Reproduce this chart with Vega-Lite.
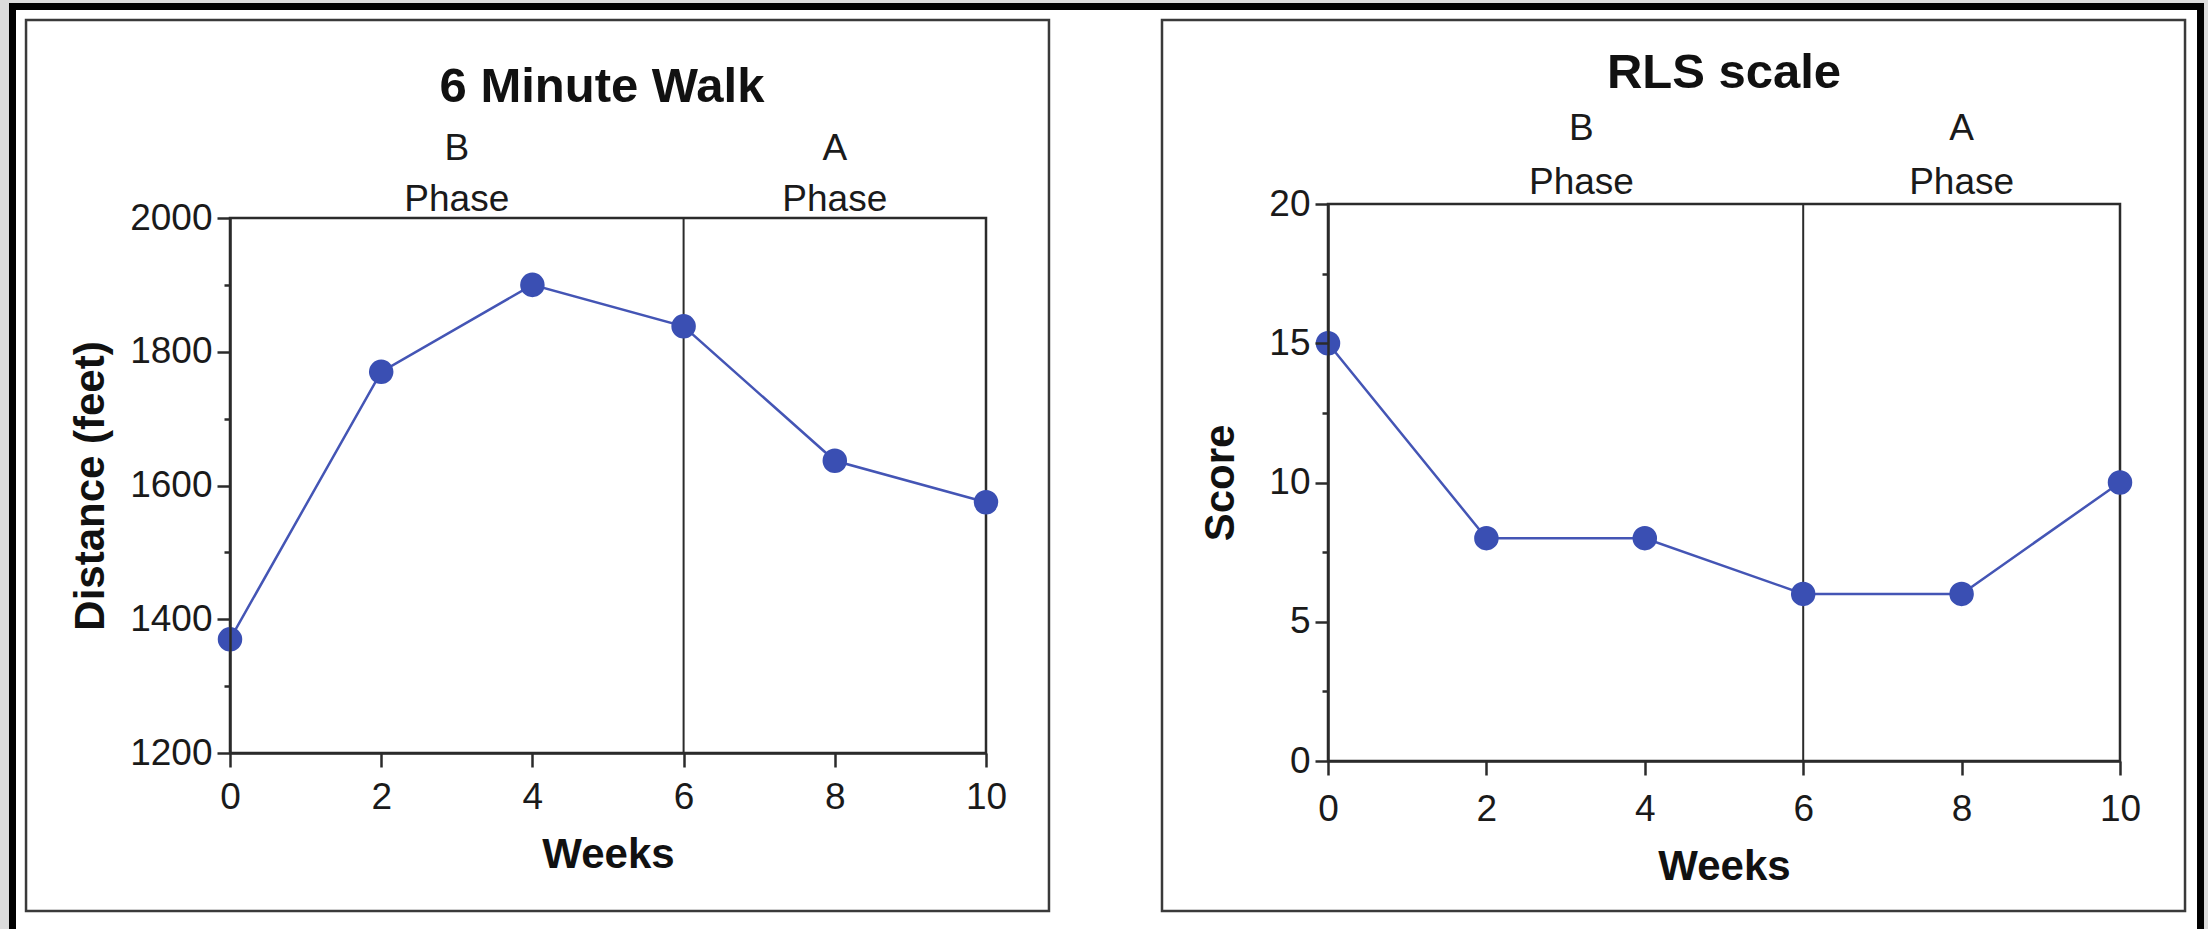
{
  "$schema": "https://vega.github.io/schema/vega-lite/v6.json",
  "width": 2208,
  "height": 929,
  "autosize": "none",
  "padding": 0,
  "background": "#dcdcdc",
  "config": {
    "font": "Liberation Sans",
    "view": {"stroke": null},
    "axis": {
      "grid": false,
      "labelFlush": false,
      "labelOverlap": false,
      "domainColor": "#2b2b2b",
      "domainWidth": 2.5,
      "tickColor": "#2b2b2b",
      "tickWidth": 2.5,
      "labelColor": "#1a1a1a",
      "labelFont": "Liberation Sans",
      "labelFontSize": 37,
      "titleFont": "Liberation Sans",
      "titleFontSize": 42,
      "titleFontWeight": "bold",
      "titleColor": "#111111"
    },
    "text": {"font": "Liberation Sans", "color": "#111111"}
  },
  "datasets": {
    "walk": [
      {"week": 0, "distance": 1370},
      {"week": 2, "distance": 1770},
      {"week": 4, "distance": 1900},
      {"week": 6, "distance": 1838},
      {"week": 8, "distance": 1637},
      {"week": 10, "distance": 1575}
    ],
    "rls": [
      {"week": 0, "score": 15},
      {"week": 2, "score": 8},
      {"week": 4, "score": 8},
      {"week": 6, "score": 6},
      {"week": 8, "score": 6},
      {"week": 10, "score": 10}
    ],
    "walkPhases": [
      {"week": 3, "phase": "B"},
      {"week": 8, "phase": "A"}
    ],
    "rlsPhases": [
      {"week": 3.2, "phase": "B"},
      {"week": 8, "phase": "A"}
    ],
    "one": [{}]
  },
  "layer": [
    {
      "layer": [
        {
          "layer": [
            {
              "data": {"name": "one"},
              "mark": {"type": "rect", "fill": "#ffffff", "stroke": "#000000", "strokeWidth": 7},
              "encoding": {
                "x": {"datum": -2.877, "type": "quantitative", "scale": {"domain": [0, 10], "range": [230, 986], "nice": false, "zero": false}},
                "x2": {"datum": 26.065},
                "y": {"datum": 2316.3, "type": "quantitative", "scale": {"domain": [1200, 2000], "range": [753, 218], "nice": false, "zero": false}},
                "y2": {"datum": 920.4}
              }
            },
            {
              "data": {"name": "one"},
              "mark": {"type": "rect", "fill": null, "stroke": "#3a3a3a", "strokeWidth": 2.5},
              "encoding": {
                "x": {"datum": -2.698, "type": "quantitative", "scale": {"domain": [0, 10], "range": [230, 986], "nice": false, "zero": false}},
                "x2": {"datum": 10.833},
                "y": {"datum": 2296.1, "type": "quantitative", "scale": {"domain": [1200, 2000], "range": [753, 218], "nice": false, "zero": false}},
                "y2": {"datum": 963.7}
              }
            },
            {
              "data": {"name": "one"},
              "mark": {"type": "rect", "fill": null, "stroke": "#2b2b2b", "strokeWidth": 2.5},
              "encoding": {
                "x": {"datum": 0, "type": "quantitative", "scale": {"domain": [0, 10], "range": [230, 986], "nice": false, "zero": false}},
                "x2": {"datum": 10},
                "y": {"datum": 1200, "type": "quantitative", "scale": {"domain": [1200, 2000], "range": [753, 218], "nice": false, "zero": false}},
                "y2": {"datum": 2000}
              }
            },
            {
              "data": {"name": "one"},
              "mark": {"type": "rule", "stroke": "#2b2b2b", "strokeWidth": 2},
              "encoding": {
                "x": {"datum": 6, "type": "quantitative", "scale": {"domain": [0, 10], "range": [230, 986], "nice": false, "zero": false}},
                "y": {"datum": 1200, "type": "quantitative", "scale": {"domain": [1200, 2000], "range": [753, 218], "nice": false, "zero": false}},
                "y2": {"datum": 2000}
              }
            },
            {
              "data": {"name": "walk"},
              "mark": {"type": "line", "color": "#4455b5", "strokeWidth": 2.5},
              "encoding": {
                "x": {
                  "field": "week", "type": "quantitative",
                  "scale": {"domain": [0, 10], "range": [230, 986], "nice": false, "zero": false},
                  "axis": {"zindex": 2, "orient": "bottom", "offset": -176, "values": [0, 2, 4, 6, 8, 10], "format": "d", "tickSize": 14, "labelPadding": 12, "title": "Weeks", "titlePadding": 19}
                },
                "y": {
                  "field": "distance", "type": "quantitative",
                  "scale": {"domain": [1200, 2000], "range": [753, 218], "nice": false, "zero": false},
                  "axis": {"zindex": 2, "orient": "left", "offset": -230, "values": [1200, 1400, 1600, 1800, 2000], "format": "d", "tickSize": 13, "labelPadding": 5, "title": "Distance (feet)", "titlePadding": 17}
                }
              }
            },
            {
              "data": {"name": "walk"},
              "mark": {"type": "point", "filled": true, "fill": "#3a4fb3", "opacity": 1, "size": 600},
              "encoding": {
                "x": {"field": "week", "type": "quantitative", "scale": {"domain": [0, 10], "range": [230, 986], "nice": false, "zero": false}},
                "y": {"field": "distance", "type": "quantitative", "scale": {"domain": [1200, 2000], "range": [753, 218], "nice": false, "zero": false}}
              }
            },
            {
              "data": {"name": "one"},
              "mark": {"type": "text", "fontSize": 49, "fontWeight": "bold", "baseline": "middle", "align": "center"},
              "encoding": {
                "x": {"datum": 4.92, "type": "quantitative", "scale": {"domain": [0, 10], "range": [230, 986], "nice": false, "zero": false}},
                "y": {"datum": 2196.2, "type": "quantitative", "scale": {"domain": [1200, 2000], "range": [753, 218], "nice": false, "zero": false}},
                "text": {"value": "6 Minute Walk"}
              }
            },
            {
              "data": {"name": "walkPhases"},
              "mark": {"type": "text", "fontSize": 37, "baseline": "middle", "align": "center", "color": "#1a1a1a"},
              "encoding": {
                "x": {"field": "week", "type": "quantitative", "scale": {"domain": [0, 10], "range": [230, 986], "nice": false, "zero": false}},
                "y": {"datum": 2102.9, "type": "quantitative", "scale": {"domain": [1200, 2000], "range": [753, 218], "nice": false, "zero": false}},
                "text": {"field": "phase"}
              }
            },
            {
              "data": {"name": "walkPhases"},
              "mark": {"type": "text", "fontSize": 37, "baseline": "middle", "align": "center", "color": "#1a1a1a"},
              "encoding": {
                "x": {"field": "week", "type": "quantitative", "scale": {"domain": [0, 10], "range": [230, 986], "nice": false, "zero": false}},
                "y": {"datum": 2027.4, "type": "quantitative", "scale": {"domain": [1200, 2000], "range": [753, 218], "nice": false, "zero": false}},
                "text": {"value": "Phase"}
              }
            }
          ]
        },
        {
          "data": {"name": "one"},
          "mark": {"type": "rule", "opacity": 0},
          "encoding": {
            "y": {
              "datum": 1300, "type": "quantitative",
              "scale": {"domain": [1200, 2000], "range": [753, 218], "nice": false, "zero": false},
              "axis": {"zindex": 2, "orient": "left", "offset": -230, "values": [1300, 1500, 1700, 1900], "labels": false, "domain": false, "tickSize": 6, "title": null}
            }
          }
        }
      ],
      "resolve": {"scale": {"y": "independent"}}
    },
    {
      "layer": [
        {
          "layer": [
            {
              "data": {"name": "one"},
              "mark": {"type": "rect", "fill": null, "stroke": "#3a3a3a", "strokeWidth": 2.5},
              "encoding": {
                "x": {"datum": -2.096, "type": "quantitative", "scale": {"domain": [0, 10], "range": [1328, 2120], "nice": false, "zero": false}},
                "x2": {"datum": 10.821},
                "y": {"datum": 26.607, "type": "quantitative", "scale": {"domain": [0, 20], "range": [761, 204], "nice": false, "zero": false}},
                "y2": {"datum": -5.386}
              }
            },
            {
              "data": {"name": "one"},
              "mark": {"type": "rect", "fill": null, "stroke": "#2b2b2b", "strokeWidth": 2.5},
              "encoding": {
                "x": {"datum": 0, "type": "quantitative", "scale": {"domain": [0, 10], "range": [1328, 2120], "nice": false, "zero": false}},
                "x2": {"datum": 10},
                "y": {"datum": 0, "type": "quantitative", "scale": {"domain": [0, 20], "range": [761, 204], "nice": false, "zero": false}},
                "y2": {"datum": 20}
              }
            },
            {
              "data": {"name": "one"},
              "mark": {"type": "rule", "stroke": "#2b2b2b", "strokeWidth": 2},
              "encoding": {
                "x": {"datum": 6, "type": "quantitative", "scale": {"domain": [0, 10], "range": [1328, 2120], "nice": false, "zero": false}},
                "y": {"datum": 0, "type": "quantitative", "scale": {"domain": [0, 20], "range": [761, 204], "nice": false, "zero": false}},
                "y2": {"datum": 20}
              }
            },
            {
              "data": {"name": "rls"},
              "mark": {"type": "line", "color": "#4455b5", "strokeWidth": 2.5},
              "encoding": {
                "x": {
                  "field": "week", "type": "quantitative",
                  "scale": {"domain": [0, 10], "range": [1328, 2120], "nice": false, "zero": false},
                  "axis": {"zindex": 2, "orient": "bottom", "offset": -168, "values": [0, 2, 4, 6, 8, 10], "format": "d", "tickSize": 14, "labelPadding": 16, "title": "Weeks", "titlePadding": 19}
                },
                "y": {
                  "field": "score", "type": "quantitative",
                  "scale": {"domain": [0, 20], "range": [761, 204], "nice": false, "zero": false},
                  "axis": {"zindex": 2, "orient": "left", "offset": -1328, "values": [0, 5, 10, 15, 20], "format": "d", "tickSize": 13, "labelPadding": 5, "title": "Score", "titlePadding": 26}
                }
              }
            },
            {
              "data": {"name": "rls"},
              "mark": {"type": "point", "filled": true, "fill": "#3a4fb3", "opacity": 1, "size": 600},
              "encoding": {
                "x": {"field": "week", "type": "quantitative", "scale": {"domain": [0, 10], "range": [1328, 2120], "nice": false, "zero": false}},
                "y": {"field": "score", "type": "quantitative", "scale": {"domain": [0, 20], "range": [761, 204], "nice": false, "zero": false}}
              }
            },
            {
              "data": {"name": "one"},
              "mark": {"type": "text", "fontSize": 49, "fontWeight": "bold", "baseline": "middle", "align": "center"},
              "encoding": {
                "x": {"datum": 5, "type": "quantitative", "scale": {"domain": [0, 10], "range": [1328, 2120], "nice": false, "zero": false}},
                "y": {"datum": 24.71, "type": "quantitative", "scale": {"domain": [0, 20], "range": [761, 204], "nice": false, "zero": false}},
                "text": {"value": "RLS scale"}
              }
            },
            {
              "data": {"name": "rlsPhases"},
              "mark": {"type": "text", "fontSize": 37, "baseline": "middle", "align": "center", "color": "#1a1a1a"},
              "encoding": {
                "x": {"field": "week", "type": "quantitative", "scale": {"domain": [0, 10], "range": [1328, 2120], "nice": false, "zero": false}},
                "y": {"datum": 22.686, "type": "quantitative", "scale": {"domain": [0, 20], "range": [761, 204], "nice": false, "zero": false}},
                "text": {"field": "phase"}
              }
            },
            {
              "data": {"name": "rlsPhases"},
              "mark": {"type": "text", "fontSize": 37, "baseline": "middle", "align": "center", "color": "#1a1a1a"},
              "encoding": {
                "x": {"field": "week", "type": "quantitative", "scale": {"domain": [0, 10], "range": [1328, 2120], "nice": false, "zero": false}},
                "y": {"datum": 20.747, "type": "quantitative", "scale": {"domain": [0, 20], "range": [761, 204], "nice": false, "zero": false}},
                "text": {"value": "Phase"}
              }
            }
          ]
        },
        {
          "data": {"name": "one"},
          "mark": {"type": "rule", "opacity": 0},
          "encoding": {
            "y": {
              "datum": 2.5, "type": "quantitative",
              "scale": {"domain": [0, 20], "range": [761, 204], "nice": false, "zero": false},
              "axis": {"zindex": 2, "orient": "left", "offset": -1328, "values": [2.5, 7.5, 12.5, 17.5], "labels": false, "domain": false, "tickSize": 6, "title": null}
            }
          }
        }
      ],
      "resolve": {"scale": {"y": "independent"}}
    }
  ],
  "resolve": {"scale": {"x": "independent", "y": "independent"}}
}
